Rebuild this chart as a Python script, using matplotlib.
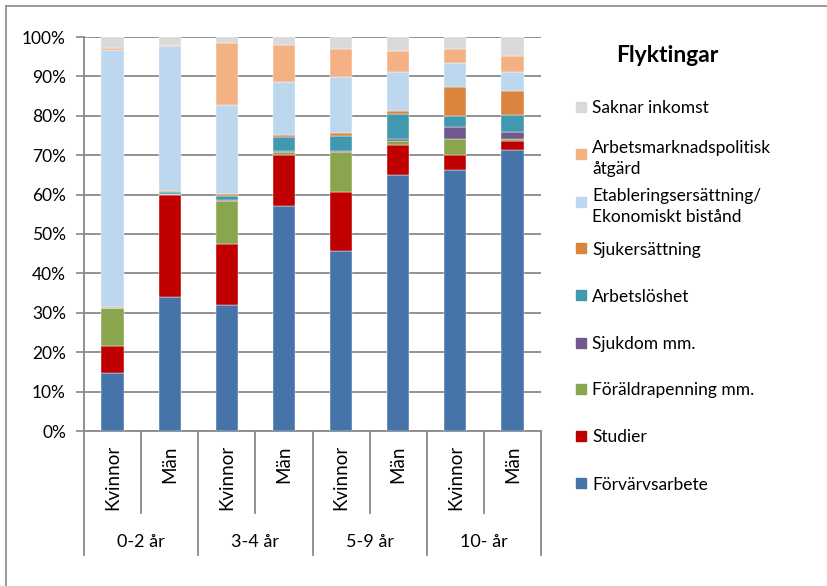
import numpy as np
import matplotlib
matplotlib.use('Agg')
import matplotlib.pyplot as plt
from matplotlib.transforms import blended_transform_factory
from matplotlib.patches import Rectangle
from matplotlib.lines import Line2D

plt.rcParams['font.family'] = ['Lato', 'DejaVu Sans']

groups = ['0-2 år', '3-4 år', '5-9 år', '10- år']
sexes = ['Kvinnor', 'Män']

# stack order bottom -> top, values in percent, one per bar
forvarv = [14.8, 34.1, 32.0, 57.0, 45.8, 65.1, 66.3, 71.4]
studier = [6.8, 25.9, 15.5, 13.1, 14.8, 7.4, 3.7, 2.1]
foraldra = [9.5, 0.2, 11.0, 0.7, 10.2, 1.0, 4.2, 0.7]
sjukdom = [0.1, 0.0, 0.1, 0.3, 0.3, 0.5, 3.0, 1.7]
arbetsloshet = [0.1, 0.4, 1.1, 3.5, 3.7, 6.4, 2.7, 4.3]
sjukersattning = [0.2, 0.3, 0.4, 0.5, 0.9, 0.8, 7.5, 6.1]
etablering = [65.3, 36.8, 22.6, 13.4, 14.2, 9.8, 6.1, 4.8]
amp = [0.4, 0.3, 15.9, 9.5, 7.0, 5.5, 3.4, 4.2]
saknar = [2.8, 2.0, 1.4, 2.0, 3.1, 3.5, 3.1, 4.7]

series = [forvarv, studier, foraldra, sjukdom, arbetsloshet,
          sjukersattning, etablering, amp, saknar]
labels = ['Förvärvsarbete', 'Studier', 'Föräldrapenning mm.', 'Sjukdom mm.',
          'Arbetslöshet', 'Sjukersättning',
          'Etableringsersättning/\nEkonomiskt bistånd',
          'Arbetsmarknadspolitisk\nåtgärd', 'Saknar inkomst']
colors = ['#4673A8', '#C00000', '#89A54E', '#71588F', '#4198AF',
          '#DB843D', '#BDD7EE', '#F4B183', '#D9D9D9']

W, H = 827, 586
fig = plt.figure(figsize=(W / 100, H / 100), dpi=100)
ax = fig.add_axes([84 / W, (H - 431) / H, (541 - 84) / W, (431 - 37) / H])

x = np.arange(len(forvarv))
bottom = np.zeros(len(x))
for vals, lab, c in zip(series, labels, colors):
    v = np.array(vals) / 100
    ax.bar(x, v, 0.39, bottom=bottom, color=c, edgecolor='white',
           linewidth=0.3, zorder=3, label=lab)
    bottom += v

ax.set_xlim(-0.5, len(x) - 0.5)
ax.set_ylim(0, 1)
ax.set_yticks(np.arange(0, 1.01, 0.1))
ax.set_yticklabels([f'{int(round(t * 100))}%' for t in np.arange(0, 1.01, 0.1)],
                   fontsize=12.5)
ax.tick_params(axis='y', length=6, width=1.2, color='#898989', pad=7)
ax.set_xticks([])
ax.grid(axis='y', color='#898989', linewidth=1.3, zorder=0)
for s in ['top', 'right']:
    ax.spines[s].set_visible(False)
for s in ['left', 'bottom']:
    ax.spines[s].set_color('#898989')
    ax.spines[s].set_linewidth(1.3)

# category axis: two-level labels
trans = blended_transform_factory(ax.transData, ax.transAxes)
for i in range(len(x)):
    ax.text(x[i], -0.036, sexes[i % 2], rotation=90, ha='center', va='top',
            fontsize=13.5, transform=trans)
for g, name in enumerate(groups):
    ax.text(2 * g + 0.5, -0.281, name, ha='center', va='center',
            fontsize=13, transform=trans)
for k in range(len(x) + 1):
    xb = k - 0.5
    depth = -0.315 if k % 2 == 0 else -0.208
    ax.plot([xb, xb], [0, depth], color='#898989', linewidth=1.3,
            transform=trans, clip_on=False)

# title and legend on the right
fig.text(667 / W, 1 - 56 / H, 'Flyktingar', fontsize=16.5, fontweight='bold',
         ha='center', va='center')
leg_y = [107, 154, 202, 248, 295, 343, 389, 436, 483]
for yy, lab, c in zip(leg_y, labels[::-1], colors[::-1]):
    fig.add_artist(Rectangle((576 / W, 1 - (yy + 5) / H), 10 / W, 10 / H,
                             transform=fig.transFigure, color=c))
    fig.text(592 / W, 1 - yy / H, lab, fontsize=12.5, ha='left',
             va='center_baseline', linespacing=1.45)

# outer chart border (top and left)
fig.add_artist(Line2D([6 / W, 6 / W], [0, 1 - 6 / H], color='#898989',
                      linewidth=1.2, transform=fig.transFigure))
fig.add_artist(Line2D([6 / W, 1], [1 - 6 / H, 1 - 6 / H], color='#898989',
                      linewidth=1.2, transform=fig.transFigure))

fig.savefig('out.png', dpi=100)
plt.close(fig)
